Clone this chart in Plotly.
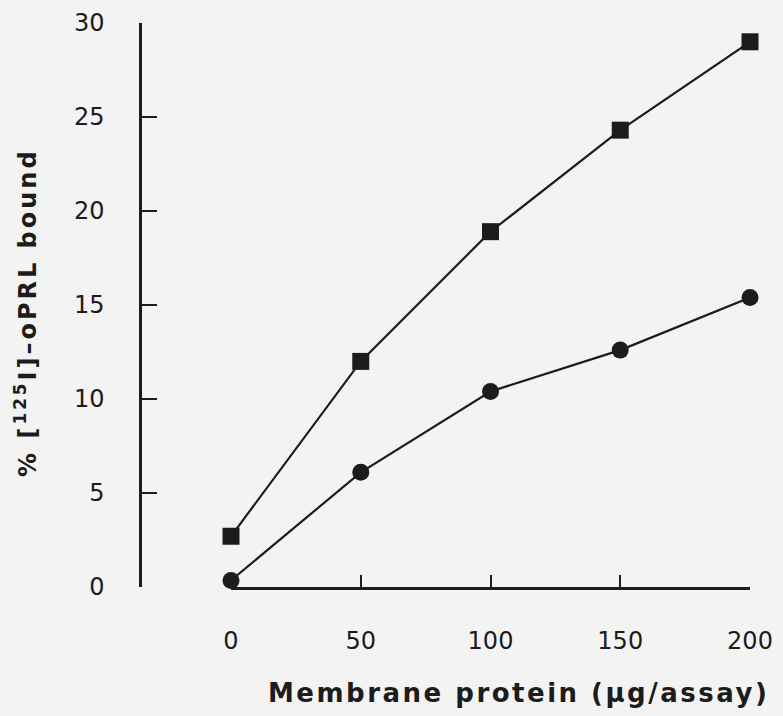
import plotly.graph_objects as go

# ----- Data -----
membrane_protein = [0, 50, 100, 150, 200]
bound_squares = [2.7, 12.0, 18.9, 24.3, 29.0]
bound_circles = [0.35, 6.1, 10.4, 12.6, 15.4]
x_ticks = [0, 50, 100, 150, 200]
y_ticks = [0, 5, 10, 15, 20, 25, 30]

ink = "#1c1c1c"
bg = "#f3f3f3"

fig = go.Figure()

fig.add_trace(go.Scatter(
    x=membrane_protein, y=bound_squares,
    mode="lines+markers",
    line=dict(color=ink, width=2.2),
    marker=dict(symbol="square", size=17, color=ink),
    cliponaxis=False,
    showlegend=False,
))
fig.add_trace(go.Scatter(
    x=membrane_protein, y=bound_circles,
    mode="lines+markers",
    line=dict(color=ink, width=2.2),
    marker=dict(symbol="circle", size=17, color=ink),
    cliponaxis=False,
    showlegend=False,
))

# ----- Layout -----
fig.update_layout(
    width=783, height=716,
    margin=dict(l=100, r=20, t=23, b=129),
    paper_bgcolor=bg, plot_bgcolor=bg,
    font=dict(family="DejaVu Sans", size=24, color=ink),
    xaxis=dict(
        range=[0, 200], domain=[0.1976, 0.9804],
        tickvals=x_ticks, ticks="inside", ticklen=12, tickwidth=2, tickcolor=ink,
        showline=True, linecolor=ink, linewidth=2.5,
        showgrid=False, zeroline=False, ticklabelstandoff=30,
        anchor="y", automargin=False,
    ),
    yaxis=dict(
        range=[0, 30], anchor="free", position=0.0603,
        tickvals=y_ticks, ticks="inside", ticklen=15, tickwidth=2, tickcolor=ink,
        showline=True, linecolor=ink, linewidth=2.5,
        showgrid=False, zeroline=False, ticklabelstandoff=30,
        automargin=False,
    ),
    annotations=[
        dict(
            text='<span style="letter-spacing:2.5px"><b>Membrane protein (μg/assay)</b></span>',
            xref="paper", yref="paper", x=0.631, y=-0.188,
            xanchor="center", yanchor="middle", showarrow=False,
            font=dict(size=26, family="DejaVu Sans", color=ink),
        ),
        dict(
            text='<span style="letter-spacing:3px"><b>% [<sup>125</sup>I]–oPRL bound</b></span>',
            xref="paper", yref="paper", x=-0.1116, y=0.486,
            xanchor="center", yanchor="middle", textangle=-90, showarrow=False,
            font=dict(size=24, family="DejaVu Sans", color=ink),
        ),
    ],
)

# drop the default body margin so the figure sits at the window's corner
fig.write_html(
    "out.html",
    config={"displayModeBar": False},
    post_script="document.body.style.margin='0';",
)
